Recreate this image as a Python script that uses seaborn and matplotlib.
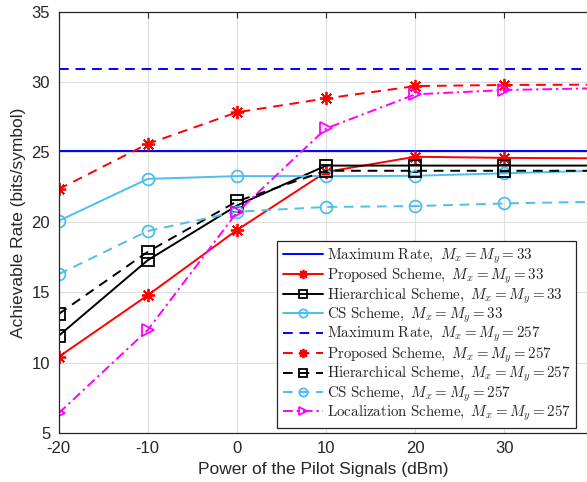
import matplotlib
matplotlib.use("Agg")
import matplotlib.pyplot as plt
import seaborn as sns
import pandas as pd
import numpy as np

x = [-20, -10, 0, 10, 20, 30, 40]
max_rate_33 = [25.1] * 7
proposed_33 = [10.4, 14.8, 19.45, 23.6, 24.68, 24.6, 24.57]
hier_33 = [11.9, 17.3, 21.2, 24.05, 24.05, 24.05, 24.05]
cs_33 = [20.1, 23.1, 23.3, 23.3, 23.32, 23.5, 23.68]
max_rate_257 = [30.93] * 7
proposed_257 = [22.36, 25.6, 27.85, 28.84, 29.72, 29.8, 29.82]
hier_257 = [13.46, 17.9, 21.5, 23.68, 23.68, 23.68, 23.68]
cs_257 = [16.3, 19.38, 20.76, 21.1, 21.16, 21.35, 21.47]
loc_257 = [6.38, 12.32, 20.71, 26.7, 29.13, 29.44, 29.56]

labels = [
    r"$\mathrm{Maximum\ Rate},\ M_x = M_y = 33$",
    r"$\mathrm{Proposed\ Scheme},\ M_x = M_y = 33$",
    r"$\mathrm{Hierarchical\ Scheme},\ M_x = M_y = 33$",
    r"$\mathrm{CS\ Scheme},\ M_x = M_y = 33$",
    r"$\mathrm{Maximum\ Rate},\ M_x = M_y = 257$",
    r"$\mathrm{Proposed\ Scheme},\ M_x = M_y = 257$",
    r"$\mathrm{Hierarchical\ Scheme},\ M_x = M_y = 257$",
    r"$\mathrm{CS\ Scheme},\ M_x = M_y = 257$",
    r"$\mathrm{Localization\ Scheme},\ M_x = M_y = 257$",
]

sns.set_style("white")
plt.rcParams["font.family"] = ["Liberation Sans", "DejaVu Sans"]
plt.rcParams["mathtext.fontset"] = "cm"
plt.rcParams["axes.unicode_minus"] = False

fig = plt.figure(figsize=(5.87, 4.82), dpi=100)
ax = fig.add_axes([0.0997, 0.1023, 0.9003, 0.8727])

blue = "#0000FF"
red = "#FF0000"
black = "#000000"
lblue = "#4DBEEE"
mag = "#FF00FF"
star = (8, 2, 0)
dash = (0, (5, 3.5))

series = [
    (max_rate_33, blue, "-", None),
    (proposed_33, red, "-", star),
    (hier_33, black, "-", "s"),
    (cs_33, lblue, "-", "o"),
    (max_rate_257, blue, dash, None),
    (proposed_257, red, dash, star),
    (hier_257, black, dash, "s"),
    (cs_257, lblue, dash, "o"),
    (loc_257, mag, (0, (5, 2, 1.2, 2)), ">"),
]

for (vals, c, ls, m), lab in zip(series, labels):
    df = pd.DataFrame({"x": x, "y": vals})
    kw = dict(x="x", y="y", data=df, ax=ax, color=c, linewidth=1.4, label=lab)
    if m is not None:
        kw.update(marker=m, markersize=8.5 if m != star else 9.5,
                  markerfacecolor="none", markeredgecolor=c, markeredgewidth=1.3)
    sns.lineplot(**kw)
    ax.lines[-1].set_linestyle(ls)

ax.set_xlim(-20, 39.25)
ax.set_ylim(5, 35)
ax.set_xticks([-20, -10, 0, 10, 20, 30])
ax.set_yticks([5, 10, 15, 20, 25, 30, 35])
ax.grid(True, color="#DEDEDE", linewidth=0.8)
ax.set_axisbelow(True)
for s in ["left", "bottom", "top"]:
    ax.spines[s].set_color("#262626")
    ax.spines[s].set_linewidth(0.9)
ax.spines["right"].set_visible(False)
ax.tick_params(direction="in", length=4, width=0.8, labelsize=12, colors="#262626",
               top=True, pad=6)
ax.set_xlabel("Power of the Pilot Signals (dBm)", fontsize=12.5, color="#262626", labelpad=4)
ax.set_ylabel("Achievable Rate (bits/symbol)", fontsize=12.5, color="#262626", labelpad=4)

leg = ax.legend(loc="lower left", bbox_to_anchor=(0.414, 0.01), fontsize=10.8,
                frameon=True, fancybox=False, edgecolor="#262626", framealpha=1,
                handlelength=2.7, handletextpad=0.25, labelspacing=0.0,
                borderpad=0.35, borderaxespad=0, markerscale=0.7)
leg.get_frame().set_linewidth(0.9)

fig.savefig("out.png", dpi=100)
